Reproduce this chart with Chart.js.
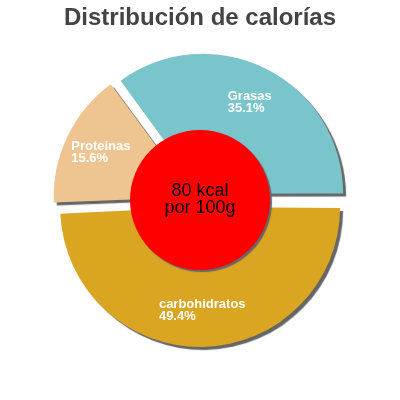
<!DOCTYPE html>
<html>
<head>
<meta charset="utf-8">
<script src="https://cdn.jsdelivr.net/npm/chart.js@4/dist/chart.umd.min.js"></script>
<style>
  html, body { margin: 0; padding: 0; background: #fff; }
  #chart { display: block; }
</style>
</head>
<body>
<canvas id="chart" width="400" height="400"></canvas>
<script>
const categories = ['carbohidratos', 'Proteinas', 'Grasas'];
const percents = [49.4, 15.6, 35.1];
const sliceColors = ['#daa520', '#eec591', '#7ac4cc'];
const centerLines = ['80 kcal', 'por 100g'];
const chartTitle = 'Distribución de calorías';

const FONT = "'Liberation Sans', Arial, sans-serif";
const PIE_R = 140;     // drawn outer radius
const SHIFT = 7;       // explode distance (arc offset / 4)

// same outer radius for every slice, white labels, red centre disc
const sliceLabels = {
    id: 'sliceLabels',
    beforeDatasetsDraw(chart) {
        const ctx = chart.ctx;
        // Chart.js grows the arc by shift * (1 - sin(circumference)); undo that
        chart.getDatasetMeta(0).data.forEach(arc => {
            const circ = arc.endAngle - arc.startAngle;
            arc.outerRadius = PIE_R - SHIFT * (1 - Math.sin(Math.min(Math.PI, circ)));
        });
        ctx.save();
        ctx.shadowColor = '#666';
        ctx.shadowOffsetX = 3;
        ctx.shadowOffsetY = 3;
        ctx.shadowBlur = 1;
    },
    afterDatasetsDraw(chart) {
        const ctx = chart.ctx;
        ctx.restore();
        const meta = chart.getDatasetMeta(0);

        meta.data.forEach((arc, i) => {
            const mid = (arc.startAngle + arc.endAngle) / 2;
            const r = PIE_R * 0.786;
            const px = arc.x + Math.cos(mid) * r;
            const py = arc.y + Math.sin(mid) * r;
            const lines = [categories[i], percents[i].toFixed(1) + '%'];
            ctx.save();
            ctx.font = 'bold 13px ' + FONT;
            ctx.fillStyle = '#fff';
            ctx.textAlign = 'left';
            ctx.textBaseline = 'alphabetic';
            const w = Math.max(...lines.map(l => ctx.measureText(l).width));
            ctx.fillText(lines[0], px - w / 2, py - 2);
            ctx.fillText(lines[1], px - w / 2, py + 10);
            ctx.restore();
        });

        const c = meta.data[0];
        ctx.save();
        ctx.shadowColor = '#666';
        ctx.shadowOffsetX = 2;
        ctx.shadowOffsetY = 2;
        ctx.shadowBlur = 1;
        ctx.beginPath();
        ctx.arc(c.x, c.y, 70, 0, Math.PI * 2);
        ctx.fillStyle = '#ff0000';
        ctx.fill();
        ctx.restore();

        ctx.save();
        ctx.font = '18px ' + FONT;
        ctx.fillStyle = '#000';
        ctx.textAlign = 'center';
        ctx.textBaseline = 'alphabetic';
        ctx.fillText(centerLines[0], c.x, c.y - 4);
        ctx.fillText(centerLines[1], c.x, c.y + 13);
        ctx.restore();
    }
};

new Chart(document.getElementById('chart'), {
    type: 'pie',
    data: {
        labels: categories,
        datasets: [{
            data: percents,
            backgroundColor: sliceColors,
            borderWidth: 0,
            offset: SHIFT * 4,
            clip: false
        }]
    },
    options: {
        responsive: false,
        animation: false,
        rotation: 90,
        radius: PIE_R - SHIFT,
        layout: { padding: { bottom: 42.8 } },
        plugins: {
            legend: { display: false },
            tooltip: { enabled: false },
            title: {
                display: true,
                text: chartTitle,
                color: '#444',
                font: { family: FONT, size: 24, weight: 'bold' },
                padding: { top: 4, bottom: 10 }
            }
        }
    },
    plugins: [sliceLabels]
});
</script>
</body>
</html>
